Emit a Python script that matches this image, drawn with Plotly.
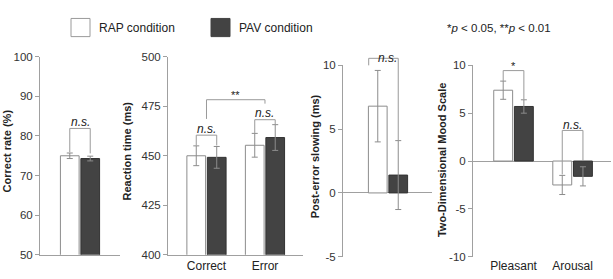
import plotly.graph_objects as go

# ---------------- data ----------------
cr_cat = ["CR"]
cr_rap = [75.0]
cr_rap_err = [0.7]
cr_pav = [74.3]
cr_pav_err = [0.6]

rt_cat = ["Correct", "Error"]
rt_rap = [450.0, 455.3]
rt_rap_err = [5.0, 6.0]
rt_pav = [449.2, 459.2]
rt_pav_err = [5.5, 6.5]

pes_cat = ["PES"]
pes_rap = [6.8]
pes_rap_err = [2.8]
pes_pav = [1.4]
pes_pav_err = [2.7]

tdms_cat = ["Pleasant", "Arousal"]
tdms_rap = [7.4, -2.5]
tdms_rap_err = [0.95, 1.0]
tdms_pav = [5.7, -1.6]
tdms_pav_err = [0.7, 1.0]

cr_ticks = [50, 60, 70, 80, 90, 100]
rt_ticks = [400, 425, 450, 475, 500]
pes_ticks = [-5, 0, 5, 10]
tdms_ticks = [-10, -5, 0, 5, 10]

y_titles = ["Correct rate (%)", "Reaction time (ms)",
            "Post-error slowing (ms)", "Two-Dimensional Mood Scale"]

# significance brackets: (panel, left x, right x, top y, left leg y, right leg y, label, label y)
brackets = [
    (1, -0.175, 0.175, 81.9, 75.9, 75.6, "<i>n.s.</i>", 83.6),
    (2, -0.175, 0.175, 460.4, 455.2, 455.2, "<i>n.s.</i>", 463.5),
    (2, 0.825, 1.175, 468.2, 461.5, 465.9, "<i>n.s.</i>", 471.6),
    (2, 0.0, 1.0, 478.3, 468.6, 476.3, "**", 480.6),
    (3, -0.33, 0.175, 10.55, 10.0, 4.1, "<i>n.s.</i>", 10.6),
    (4, -0.175, 0.175, 9.45, 8.35, 6.45, "*", 9.95),
    (4, 0.825, 1.175, 3.2, -1.4, 0.0, "<i>n.s.</i>", 3.8),
]

# ---------------- styling / layout ----------------
W, H = 613, 279
FONT = "Liberation Sans, Arial, Helvetica, sans-serif"
AXC = "#a0a0a0"
TXT = "#333333"
BAR_W = 0.32
OFF_RAP = -0.335
OFF_PAV = 0.015

panels = [
    # (categories, rap, rap_err, pav, pav_err, xrange, yrange, ticks, xdom(px), ydom(px top,bottom), show x labels, bottom line)
    (cr_cat, cr_rap, cr_rap_err, cr_pav, cr_pav_err, [-0.684, 0.684], [50, 100], cr_ticks, (40, 120), (53, 260), False, True),
    (rt_cat, rt_rap, rt_rap_err, rt_pav, rt_pav_err, [-0.658, 1.65], [400, 500], rt_ticks, (168, 303), (53, 260), True, True),
    (pes_cat, pes_rap, pes_rap_err, pes_pav, pes_pav_err, [-0.769, 0.752], [-5, 10], pes_ticks, (343, 432), (62, 262), False, False),
    (tdms_cat, tdms_rap, tdms_rap_err, tdms_pav, tdms_pav_err, [-0.686, 1.65], [-10, 10], tdms_ticks, (473, 611), (62, 262), True, False),
]
title_pos = [(7, 152), (127, 152), (315, 157), (442, 161)]

fig = go.Figure()
layout = dict(
    width=W, height=H, autosize=False,
    margin=dict(l=0, r=0, t=0, b=0),
    paper_bgcolor="white", plot_bgcolor="white",
    showlegend=False, barmode="overlay",
    font=dict(family=FONT, size=11, color=TXT),
)
shapes = []
annotations = []

for i, (cat, rap, rap_e, pav, pav_e, xr, yr, ticks, xd, yd, showx, bline) in enumerate(panels, start=1):
    sfx = "" if i == 1 else str(i)
    xa, ya = "x" + sfx, "y" + sfx
    fig.add_trace(go.Bar(
        x=cat, y=rap, width=BAR_W, offset=OFF_RAP, xaxis=xa, yaxis=ya,
        marker=dict(color="white", line=dict(color="#8c8c8c", width=1)),
        error_y=dict(type="data", array=rap_e, color="#8c8c8c", thickness=1, width=3),
        name="RAP condition"))
    fig.add_trace(go.Bar(
        x=cat, y=pav, width=BAR_W, offset=OFF_PAV, xaxis=xa, yaxis=ya,
        marker=dict(color="#434343", line=dict(color="#333333", width=1)),
        error_y=dict(type="data", array=pav_e, color="#8c8c8c", thickness=1, width=3),
        name="PAV condition"))
    layout["xaxis" + sfx] = dict(
        domain=[xd[0] / W, xd[1] / W], range=xr, type="category",
        anchor=ya, showgrid=False, zeroline=False,
        showline=bline, linecolor=AXC, linewidth=1,
        ticks="", showticklabels=showx,
        tickfont=dict(family=FONT, size=12, color="#222222"),
        fixedrange=True,
    )
    layout["yaxis" + sfx] = dict(
        domain=[(H - yd[1]) / H, (H - yd[0]) / H], range=yr,
        anchor=xa, showgrid=False,
        zeroline=not bline, zerolinecolor=AXC, zerolinewidth=1,
        showline=True, linecolor=AXC, linewidth=1,
        ticks="outside", ticklen=4, tickcolor=AXC, tickwidth=1,
        tickvals=ticks, ticktext=[str(t) for t in ticks],
        tickfont=dict(family=FONT, size=11.5, color=TXT),
        fixedrange=True,
    )
    tx, ty = title_pos[i - 1]
    annotations.append(dict(
        text="<b>" + y_titles[i - 1] + "</b>", x=tx / W, y=(H - ty) / H,
        xref="paper", yref="paper", showarrow=False, textangle=-90,
        xanchor="center", yanchor="middle",
        font=dict(family=FONT, size=11, color="#222222")))

# brackets drawn in each panel's own axis domain coordinates
for (p, xl, xrr, top, lb, rb, lab, ly) in brackets:
    cat, _, _, _, _, xr, yr, _, _, _, _, _ = panels[p - 1]
    sfx = "" if p == 1 else str(p)
    fx = lambda v: (v - xr[0]) / (xr[1] - xr[0])
    fy = lambda v: (v - yr[0]) / (yr[1] - yr[0])
    ref = dict(xref="x" + sfx + " domain", yref="y" + sfx + " domain")
    ln = dict(color="#9a9a9a", width=1)
    shapes.append(dict(type="line", x0=fx(xl), x1=fx(xrr), y0=fy(top), y1=fy(top), line=ln, **ref))
    shapes.append(dict(type="line", x0=fx(xl), x1=fx(xl), y0=fy(top), y1=fy(lb), line=ln, **ref))
    shapes.append(dict(type="line", x0=fx(xrr), x1=fx(xrr), y0=fy(top), y1=fy(rb), line=ln, **ref))
    lx = (xl + xrr) / 2 if p != 3 else 0.0
    annotations.append(dict(
        text=lab, x=fx(lx), y=fy(ly), showarrow=False,
        xanchor="center", yanchor="middle",
        font=dict(family=FONT, size=12 if lab.startswith("<i>") else 11, color="#222222"),
        **ref))

# legend drawn as boxes + labels
legend_items = [("RAP condition", "white", "#9a9a9a", 71), ("PAV condition", "#434343", "#434343", 211)]
for label, fill, edge, x0 in legend_items:
    shapes.append(dict(type="rect", xref="paper", yref="paper",
                       x0=x0 / W, x1=(x0 + 19) / W, y0=(H - 32) / H, y1=(H - 13) / H,
                       fillcolor=fill, line=dict(color=edge, width=1)))
    annotations.append(dict(text=label, x=(x0 + 26) / W, y=(H - 22.5) / H,
                            xref="paper", yref="paper", showarrow=False,
                            xanchor="left", yanchor="middle",
                            font=dict(family=FONT, size=12, color="#222222")))
annotations.append(dict(text="*<i>p</i> < 0.05, **<i>p</i> < 0.01", x=445 / W, y=(H - 23) / H,
                        xref="paper", yref="paper", showarrow=False,
                        xanchor="left", yanchor="middle",
                        font=dict(family=FONT, size=11.5, color="#222222")))

layout["shapes"] = shapes
layout["annotations"] = annotations
fig.update_layout(**layout)
fig.write_html("out.html", config={"displayModeBar": False})
